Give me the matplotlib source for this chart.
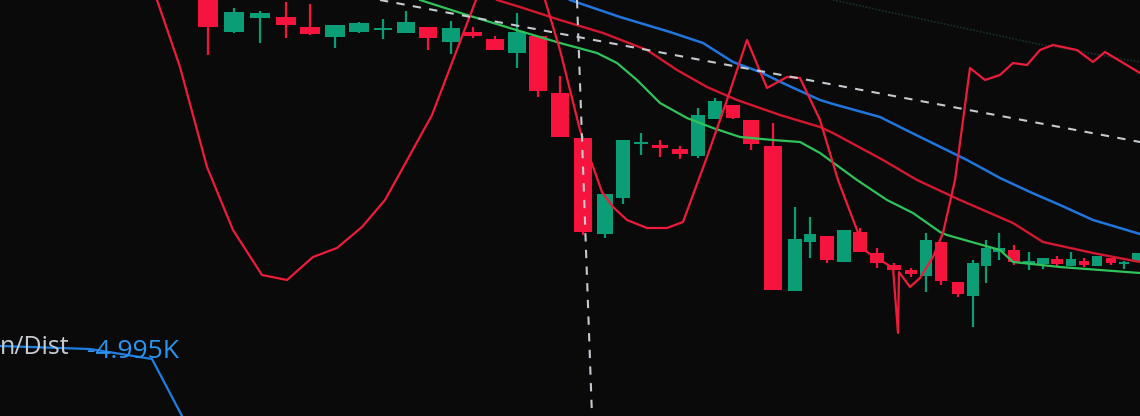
import numpy as np
import matplotlib
matplotlib.use("Agg")
import matplotlib.pyplot as plt

# ---- candle data (screen-level units, axis inverted) ----
candle_x = [208, 234, 260, 286, 310, 335, 359, 383, 406, 428, 451, 473, 495, 517, 538,
            560, 583, 605, 623, 641, 660, 680, 698, 715, 733, 751, 773, 795, 810, 827,
            844, 860, 877, 894, 911, 926, 941, 958, 973, 986, 999, 1014, 1029, 1043,
            1057, 1071, 1084, 1097, 1111, 1124, 1137]
opens = [-10, 32, 18, 17, 27, 37, 32, 30, 33, 27, 42, 32, 39, 53, 36,
         93, 138, 234, 198, 144, 145, 149, 156, 119, 105, 120, 146, 291, 242, 236,
         262, 232, 253, 265, 270, 276, 242, 282, 296, 266, 252, 250, 264, 264,
         259, 266, 261, 266, 258, 264, 262]
highs = [-20, 8, 11, 2, 4, 25, 22, 19, 11, 27, 21, 27, 36, 13, 36,
         76, 138, 194, 140, 133, 140, 146, 108, 98, 105, 120, 123, 207, 217, 236,
         230, 228, 248, 263, 268, 233, 242, 282, 260, 240, 233, 245, 252, 258,
         256, 252, 258, 256, 258, 261, 253]
lows = [55, 33, 43, 38, 35, 48, 33, 39, 33, 50, 54, 38, 50, 68, 97,
        137, 235, 238, 204, 155, 157, 159, 158, 119, 119, 150, 290, 291, 258, 263,
        262, 252, 268, 270, 277, 292, 285, 297, 327, 283, 260, 265, 270, 269,
        267, 266, 267, 266, 265, 269, 262]
closes = [27, 12, 13, 25, 34, 25, 23, 28, 22, 38, 28, 36, 50, 32, 91,
          137, 232, 194, 140, 142, 148, 154, 115, 101, 118, 144, 290, 239, 234, 260,
          230, 252, 263, 270, 274, 240, 281, 294, 263, 248, 248, 262, 261, 258,
          264, 259, 265, 256, 263, 262, 253]

# ---- indicator lines ----
blue_x = [570, 620, 670, 703, 733, 760, 787, 820, 833, 880, 910, 967, 1000, 1030, 1060, 1093, 1140]
blue_y = [0, 17, 32, 43, 62, 72, 85, 100, 104, 117, 132, 160, 178, 192, 205, 220, 234]

green_x = [420, 467, 513, 560, 597, 617, 637, 660, 687, 713, 740, 773, 800, 820, 857,
           887, 913, 940, 947, 1000, 1013, 1060, 1140]
green_y = [0, 15, 29, 43, 53, 63, 80, 103, 118, 128, 137, 140, 142, 153, 180,
           200, 213, 232, 235, 250, 262, 267, 273]

redma_x = [497, 520, 560, 603, 647, 677, 707, 737, 780, 820, 833, 883, 917, 960, 1013, 1043, 1093, 1140]
redma_y = [0, 7, 20, 33, 50, 70, 87, 100, 115, 127, 133, 160, 180, 200, 223, 242, 253, 262]

osc_x = [150, 157, 180, 207, 233, 262, 287, 313, 337, 362, 385, 400, 432, 476, 505,
         545, 560, 580, 602, 613, 627, 647, 667, 683, 707, 727, 747, 767, 787, 800, 820,
         838, 857, 867, 877, 893, 898, 899, 910, 920, 933, 943, 955, 970, 985, 1000,
         1013, 1027, 1040, 1053, 1077, 1093, 1105, 1140]
osc_y = [-20, 0, 67, 167, 230, 275, 280, 257, 248, 227, 200, 173, 115, 0, -80,
         0, 50, 130, 192, 207, 220, 228, 228, 222, 157, 100, 40, 88, 77, 78, 120,
         180, 230, 252, 258, 268, 333, 272, 287, 278, 257, 233, 180, 68, 80, 75,
         63, 65, 50, 45, 50, 62, 52, 73]

cross_h_x = [380, 1140]
cross_h_y = [0, 142]
cross_v_x = [577, 592]
cross_v_y = [0, 416]
faint_x = [833, 1033, 1140]
faint_y = [0, 43, 62]

dist_line_x = [0, 90, 152, 182]
dist_line_y = [346, 349, 359, 416]
label_text = "n/Dist"
value_text = "-4.995K"

# ---- styling ----
BG = "#0a0a0a"
RED = "#f6143f"
GREEN = "#0b9d76"

fig = plt.figure(figsize=(11.4, 4.16), dpi=100, facecolor=BG)
ax = fig.add_axes([0, 0, 1, 1], facecolor=BG)
ax.set_xlim(0, 1140)
ax.set_ylim(416, 0)
ax.axis("off")

xs = np.array(candle_x, dtype=float)
spacing = np.gradient(xs)
widths = spacing * 0.8
for x, o, h, l, c, w in zip(xs, opens, highs, lows, closes, widths):
    col = RED if c > o else GREEN
    ax.vlines(x, h, l, color=col, linewidth=1.6, zorder=2)
    lo, hi = min(o, c), max(o, c)
    ax.bar(x, max(hi - lo, 2), bottom=lo, width=w, color=col, zorder=3, linewidth=0)

ax.plot(faint_x, faint_y, color="#173030", linewidth=1.2, linestyle=(0, (1, 1)), zorder=1)
ax.plot(blue_x, blue_y, color="#2176de", linewidth=1.8, zorder=4)
ax.plot(green_x, green_y, color="#2fc35a", linewidth=1.6, zorder=4)
ax.plot(redma_x, redma_y, color="#d4182f", linewidth=1.7, zorder=4)
ax.plot(osc_x, osc_y, color="#ec1c3a", linewidth=1.6, zorder=5)
ax.plot(cross_h_x, cross_h_y, color="#c4cad0", linewidth=1.5,
        linestyle=(0, (4, 4)), zorder=6)
ax.plot(cross_v_x, cross_v_y, color="#c4cad0", linewidth=1.5,
        linestyle=(0, (4, 4)), zorder=6)

ax.plot(dist_line_x, dist_line_y, color="#1f7fe0", linewidth=1.6, zorder=4)
ax.text(0, 347, label_text, color="#c3cad2", fontsize=18, family="Open Sans",
        ha="left", va="center", zorder=7)
ax.text(87, 352, value_text, color="#2a95f0", fontsize=19, family="Open Sans",
        ha="left", va="center", zorder=7)

fig.savefig("out.png", dpi=100, facecolor=BG)
